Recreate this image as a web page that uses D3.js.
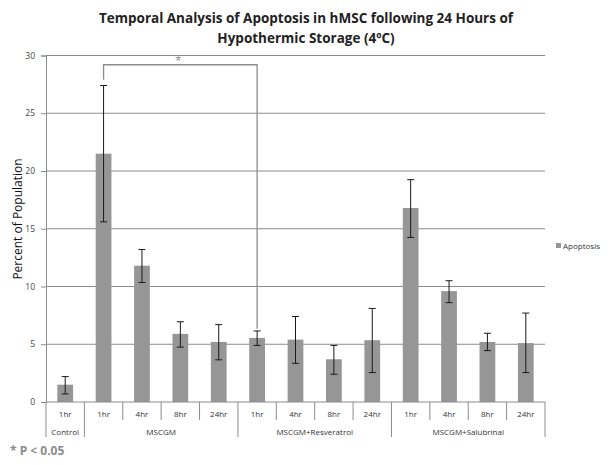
<!DOCTYPE html>
<html>
<head>
<meta charset="utf-8">
<script src="https://cdn.jsdelivr.net/npm/d3@7"></script>
<style>
  body { margin: 0; background: #fff; }
  text { font-family: "Open Sans", "Noto Sans", sans-serif; }
</style>
</head>
<body>
<svg id="chart" width="612" height="465"></svg>
<script>
// values
var groups = ["Control", "MSCGM", "MSCGM+Resveratrol", "MSCGM+Salubrinal"];
var timeLabels = ["1hr", "1hr", "4hr", "8hr", "24hr", "1hr", "4hr", "8hr", "24hr", "1hr", "4hr", "8hr", "24hr"];
var groupOf = [0, 1, 1, 1, 1, 2, 2, 2, 2, 3, 3, 3, 3];
var apoptosis = [1.5, 21.5, 11.8, 5.9, 5.2, 5.55, 5.4, 3.7, 5.35, 16.8, 9.6, 5.2, 5.1];
var errLow = [0.7, 15.6, 10.35, 4.75, 3.65, 4.9, 3.35, 2.4, 2.55, 14.25, 8.6, 4.45, 2.55];
var errHigh = [2.2, 27.4, 13.2, 6.95, 6.7, 6.15, 7.4, 4.9, 8.1, 19.25, 10.5, 5.95, 7.7];
var yTicks = [0, 5, 10, 15, 20, 25, 30];

var plotLeft = 46, plotRight = 545, plotTop = 55.5, plotBottom = 402;
var svg = d3.select('#chart');

var idx = d3.range(apoptosis.length);
var x = d3.scaleBand().domain(idx).range([plotLeft, plotRight]).paddingInner(0.59).paddingOuter(0.295);
var y = d3.scaleLinear().domain([0, 30]).range([plotBottom, plotTop]);
var step = x.step();

// title
svg.append('text').attr('x', 306).attr('y', 23).attr('text-anchor', 'middle')
   .attr('font-size', 13.5).attr('font-weight', 'bold').attr('fill', '#222')
   .text('Temporal Analysis of Apoptosis in hMSC following 24 Hours of');
svg.append('text').attr('x', 306).attr('y', 43).attr('text-anchor', 'middle')
   .attr('font-size', 13.5).attr('font-weight', 'bold').attr('fill', '#222')
   .text('Hypothermic Storage (4ºC)');

// gridlines
svg.append('g').selectAll('line').data(yTicks.slice(1)).enter().append('line')
   .attr('x1', plotLeft).attr('x2', plotRight)
   .attr('y1', d => y(d)).attr('y2', d => y(d))
   .attr('stroke', '#8c8c8c').attr('stroke-width', 1);

// y axis
var yax = svg.append('g').attr('transform', 'translate(' + plotLeft + ',0)')
   .call(d3.axisLeft(y).tickValues(yTicks).tickSize(5).tickPadding(6));
yax.select('.domain').attr('stroke', '#8c8c8c');
yax.selectAll('.tick line').attr('stroke', '#8c8c8c');
yax.selectAll('.tick text').attr('font-size', 8.5).attr('fill', '#444')
   .style('font-family', '"Open Sans", sans-serif');

svg.append('text').attr('transform', 'translate(22,' + 219 + ') rotate(-90)')
   .attr('text-anchor', 'middle').attr('font-size', 12).attr('fill', '#111')
   .text('Percent of Population');

// bars
svg.append('g').selectAll('rect').data(idx).enter().append('rect')
   .attr('x', i => x(i)).attr('width', x.bandwidth())
   .attr('y', i => y(apoptosis[i])).attr('height', i => plotBottom - y(apoptosis[i]))
   .attr('fill', '#969696');

// error bars
var eb = svg.append('g').attr('stroke', '#1a1a1a').attr('stroke-width', 1);
idx.forEach(function(i){
  var cx = x(i) + x.bandwidth() / 2;
  eb.append('line').attr('x1', cx).attr('x2', cx).attr('y1', y(errLow[i])).attr('y2', y(errHigh[i]));
  eb.append('line').attr('x1', cx - 3.5).attr('x2', cx + 3.5).attr('y1', y(errLow[i])).attr('y2', y(errLow[i]));
  eb.append('line').attr('x1', cx - 3.5).attr('x2', cx + 3.5).attr('y1', y(errHigh[i])).attr('y2', y(errHigh[i]));
});

// x axis with grouped categories
var xg = svg.append('g').attr('stroke', '#8c8c8c').attr('stroke-width', 1);
xg.append('line').attr('x1', plotLeft).attr('x2', plotRight).attr('y1', plotBottom).attr('y2', plotBottom);
d3.range(apoptosis.length + 1).forEach(function(k){
  var bx = plotLeft + k * step;
  var isGroupEdge = (k == 0 || k == apoptosis.length || groupOf[k] != groupOf[k - 1]);
  xg.append('line').attr('x1', bx).attr('x2', bx).attr('y1', plotBottom)
    .attr('y2', isGroupEdge ? 437 : 420);
});

svg.append('g').selectAll('text').data(idx).enter().append('text')
   .attr('x', i => x(i) + x.bandwidth() / 2).attr('y', 417)
   .attr('text-anchor', 'middle').attr('font-size', 8).attr('fill', '#333')
   .text(i => timeLabels[i]);

svg.append('g').selectAll('text').data(groups).enter().append('text')
   .attr('x', function(g, gi){
     var members = idx.filter(i => groupOf[i] == gi);
     return plotLeft + (members[0] + members.length / 2) * step;
   })
   .attr('y', 435).attr('text-anchor', 'middle').attr('font-size', 8).attr('fill', '#333')
   .text(d => d);

// significance bracket
var bx1 = x(1) + x.bandwidth() / 2, bx2 = x(5) + x.bandwidth() / 2;
svg.append('path')
   .attr('d', 'M' + bx1 + ',' + y(27.9) + 'V' + y(29.2) + 'H' + bx2 + 'V' + y(6.35))
   .attr('fill', 'none').attr('stroke', '#8c8c8c').attr('stroke-width', 1.3);
svg.append('text').attr('x', (bx1 + bx2) / 2 - 2).attr('y', 65)
   .attr('text-anchor', 'middle').attr('font-size', 12).attr('fill', '#8c8c8c')
   .text('*');

// legend
svg.append('rect').attr('x', 556).attr('y', 243).attr('width', 5).attr('height', 5).attr('fill', '#969696');
svg.append('text').attr('x', 563).attr('y', 248.5).attr('font-size', 8).attr('fill', '#333').text('Apoptosis');

// footnote
svg.append('text').attr('x', 10).attr('y', 455).attr('font-size', 12).attr('font-weight', 'bold')
   .attr('fill', '#8c8c8c').text('* P < 0.05');
</script>
</body>
</html>
